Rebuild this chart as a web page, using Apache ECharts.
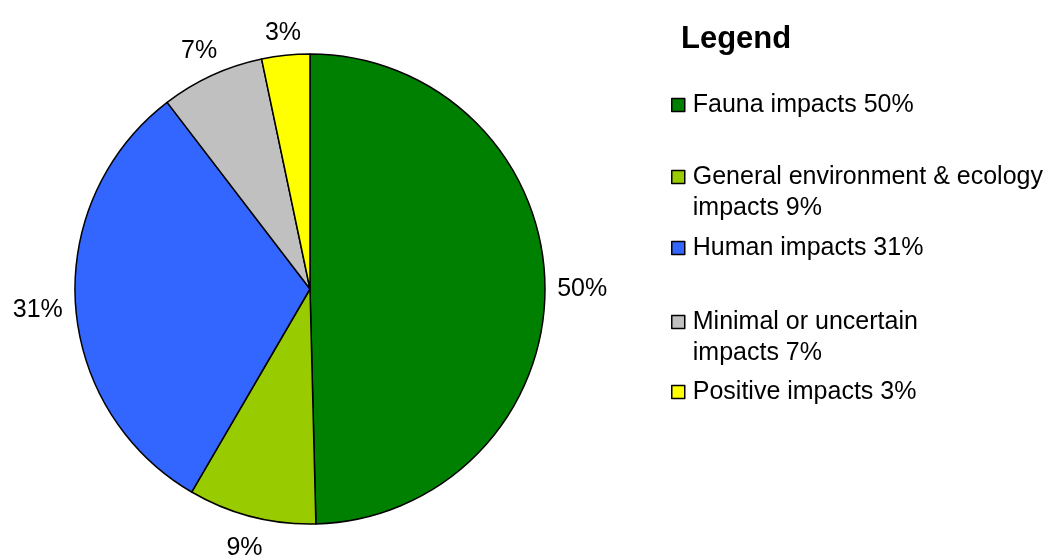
<!DOCTYPE html>
<html>
<head>
<meta charset="utf-8">
<script src="https://cdn.jsdelivr.net/npm/echarts@6/dist/echarts.min.js"></script>
<style>
  html, body { margin: 0; padding: 0; background: #fff; }
  #main { width: 1048px; height: 557px; }
</style>
</head>
<body>
<div id="main"></div>
<script>
// impact categories, share of total (%)
var categories = ['Fauna impacts', 'General environment & ecology impacts', 'Human impacts', 'Minimal or uncertain impacts', 'Positive impacts'];
var shares = [49.6, 8.8, 31.2, 7.1, 3.3];
var colors = ['#008000', '#99cc00', '#3366ff', '#c0c0c0', '#ffff00'];
var legendText = ['Fauna impacts 50%', 'General environment & ecology\nimpacts 9%', 'Human impacts 31%', 'Minimal or uncertain\nimpacts 7%', 'Positive impacts 3%'];
var legendY = [103, 175, 246, 320, 390];

var font = 'Liberation Sans, Arial, sans-serif';
var lineH = 31;

var legends = categories.map(function (name, i) {
    var twoLines = legendText[i].indexOf('\n') >= 0;
    return {
        orient: 'vertical',
        left: 666,
        top: (twoLines ? legendY[i] - lineH * 1.5 : legendY[i] - lineH / 2) - 3,
        data: [name],
        icon: 'rect',
        itemWidth: 13,
        itemHeight: 13,
        selectedMode: false,
        itemStyle: { borderColor: '#000', borderWidth: 1.5 },
        // leading blank line keeps the icon beside the first line
        formatter: function () { return twoLines ? '\n' + legendText[i] : legendText[i]; },
        textStyle: {
            fontFamily: font,
            fontSize: 25,
            color: '#000',
            lineHeight: lineH,
            padding: [0, 0, 0, 3]
        }
    };
});

var myChart = echarts.init(document.getElementById('main'));
myChart.setOption({
    animation: false,
    color: colors,
    title: {
        text: 'Legend',
        left: 676,
        top: 19,
        textStyle: { fontFamily: font, fontSize: 31, fontWeight: 'bold', color: '#000' }
    },
    legend: legends,
    series: [
        {
            type: 'pie',
            center: [310, 289],
            radius: 235,
            startAngle: 90,
            clockwise: true,
            itemStyle: { borderColor: '#000', borderWidth: 1.5 },
            label: {
                show: true,
                position: 'outside',
                fontFamily: font,
                fontSize: 25,
                color: '#000',
                formatter: function (p) { return Math.round(p.value) + '%'; }
            },
            labelLine: { show: false, length: 12, length2: 0 },
            // place each label just outside the slice, centred on its mid angle
            labelLayout: function (params) {
                var layout = myChart.getModel().getSeriesByIndex(0).getData().getItemLayout(params.dataIndex);
                var mid = (layout.startAngle + layout.endAngle) / 2;
                var dx = Math.cos(mid), dy = Math.sin(mid);
                var ext = Math.abs(dx) * params.labelRect.width / 2 + Math.abs(dy) * params.labelRect.height / 2;
                var R = layout.r + 12 + ext;
                return {
                    x: layout.cx + dx * R,
                    y: layout.cy + dy * R + 4,
                    align: 'center',
                    verticalAlign: 'middle'
                };
            },
            emphasis: { disabled: true },
            data: categories.map(function (name, i) {
                return { name: name, value: shares[i] };
            })
        }
    ]
});
</script>
</body>
</html>
